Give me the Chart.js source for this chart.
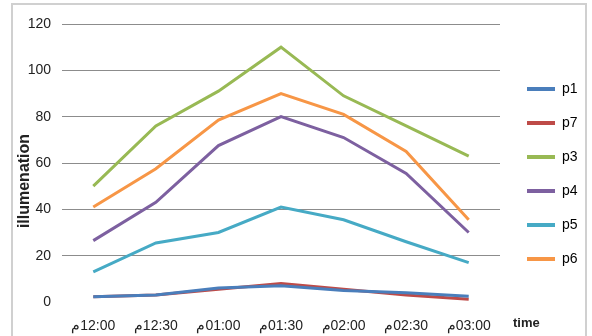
<!DOCTYPE html>
<html>
<head>
<meta charset="utf-8">
<script src="https://cdn.jsdelivr.net/npm/chart.js@4"></script>
<style>
html,body{margin:0;padding:0;background:#fff;}
#wrap{position:relative;width:592px;height:336px;}
</style>
</head>
<body>
<div id="wrap"><canvas id="c" width="592" height="336"></canvas></div>
<script>
const categories = ["م\u200E12:00", "م\u200E12:30", "م\u200E01:00", "م\u200E01:30", "م\u200E02:00", "م\u200E02:30", "م\u200E03:00"];
const p1 = [2.3, 3, 6, 7, 5, 4, 2.5];
const p7 = [2.3, 3, 5.5, 8, 5.5, 3, 1.2];
const p3 = [50, 76, 91, 110, 89, 76, 63];
const p4 = [26.5, 43, 67.5, 80, 71, 55.5, 30];
const p5 = [13, 25.5, 30, 41, 35.5, 26, 17];
const p6 = [41, 57.5, 78.5, 90, 81, 65, 35.5];
const yTicks = [0, 20, 40, 60, 80, 100, 120];
const seriesNames = ["p1", "p7", "p3", "p4", "p5", "p6"];
const seriesColors = ["#4A7EBB", "#BE4B48", "#98B954", "#7D60A0", "#46AAC5", "#F79646"];
const seriesData = [p1, p7, p3, p4, p5, p6];
const yTitle = "illumenation";
const xTitle = "time";

const FONT = "'Liberation Sans', Arial, sans-serif";

const decor = {
  id: 'decor',
  beforeUpdate(chart) {
    const lg = chart.legend;
    if (lg && !lg._patched) {
      const f = lg.fit.bind(lg);
      lg.fit = function () { f(); this.width = 92; };
      lg._patched = true;
    }
  },
  afterUpdate(chart) {
    const lg = chart.legend;
    if (lg) { lg.left += 7; lg.right += 7; lg.top -= 6; lg.bottom -= 6; }
  },
  beforeDraw(chart) {
    const ctx = chart.ctx;
    ctx.save();
    ctx.fillStyle = '#fff';
    ctx.fillRect(0, 0, chart.width, chart.height);
    ctx.strokeStyle = '#d0d0d0';
    ctx.lineWidth = 2;
    ctx.strokeRect(12, 4, 574, 340);
    ctx.restore();
  },
  afterDraw(chart) {
    const ctx = chart.ctx;
    ctx.save();
    ctx.fillStyle = '#222';
    ctx.font = 'bold 13px ' + FONT;
    ctx.textBaseline = 'middle';
    ctx.textAlign = 'left';
    ctx.fillText(xTitle, 513, 323);
    ctx.translate(25, 181);
    ctx.rotate(-Math.PI / 2);
    ctx.textAlign = 'center';
    ctx.font = 'bold 16px ' + FONT;
    ctx.fillText(yTitle, 0, 0);
    ctx.restore();
  }
};

new Chart(document.getElementById('c'), {
  type: 'line',
  data: {
    labels: categories,
    datasets: seriesNames.map((n, i) => ({
      label: n,
      data: seriesData[i],
      borderColor: seriesColors[i],
      backgroundColor: seriesColors[i],
      borderWidth: 3,
      pointRadius: 0,
      tension: 0,
      fill: false
    }))
  },
  options: {
    responsive: false,
    animation: false,
    layout: { padding: { top: 24, right: 0, left: 0, bottom: 0 } },
    plugins: {
      tooltip: { enabled: false },
      legend: {
        position: 'right',
        align: 'center',
        labels: {
          boxWidth: 28,
          boxHeight: 4,
          padding: 20,
          color: '#222',
          font: { family: FONT, size: 14 },
          generateLabels(chart) {
            return chart.data.datasets.map((d, i) => ({
              text: d.label,
              fillStyle: d.borderColor,
              strokeStyle: d.borderColor,
              lineWidth: 0,
              datasetIndex: i,
              hidden: false
            }));
          }
        }
      }
    },
    scales: {
      x: {
        offset: true,
        grid: { display: false, drawTicks: false },
        border: { display: false },
        ticks: { color: '#222', font: { family: FONT, size: 14 }, padding: 16, maxRotation: 0, autoSkip: false },
        afterFit(s) { s.height = 34; }
      },
      y: {
        min: 0, max: 120,
        afterBuildTicks(s) { s.ticks = yTicks.map(v => ({ value: v })); },
        grid: {
          color: ctx => ctx.tick && ctx.tick.value === 0 ? 'rgba(0,0,0,0)' : '#8c8c8c',
          lineWidth: 1,
          drawTicks: false
        },
        border: { display: false },
        ticks: { color: '#222', font: { family: FONT, size: 14 }, padding: 11 },
        title: { display: false },
        afterFit(s) { s.width = 62; }
      }
    }
  },
  plugins: [decor]
});
</script>
</body>
</html>
